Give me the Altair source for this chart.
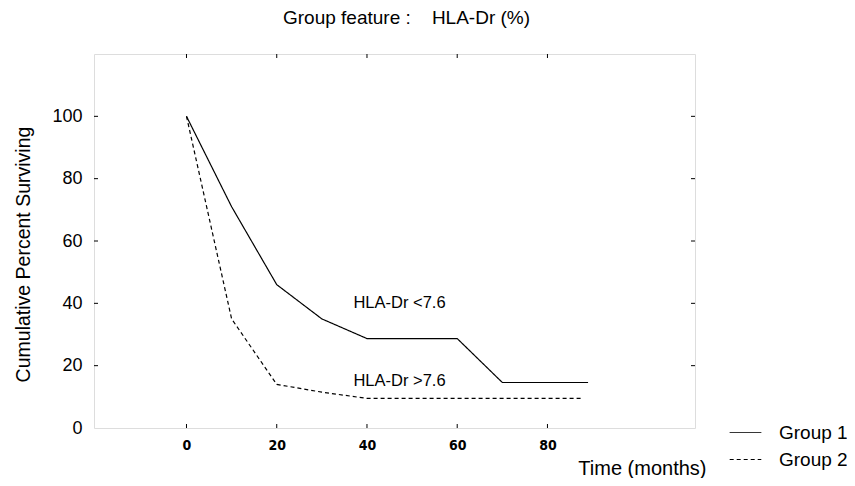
import altair as alt
import pandas as pd

# ---- data ----
time_g1 = [0, 10, 20, 30, 40, 50, 60, 70, 80, 89]
surv_g1 = [100, 71, 46, 35, 28.7, 28.7, 28.7, 14.6, 14.6, 14.6]
time_g2 = [0, 10, 20, 30, 40, 50, 60, 70, 80, 88]
surv_g2 = [100, 35, 14, 11.5, 9.5, 9.5, 9.5, 9.5, 9.5, 9.5]
groups = ["Group 1", "Group 2"]

ann_t = [37, 37]
ann_s = [40.2, 15.2]
ann_text = ["HLA-Dr <7.6", "HLA-Dr >7.6"]

x_ticks = [0, 20, 40, 60, 80]
y_ticks = [0, 20, 40, 60, 80, 100]

W, H = 601, 374
FONT = "Liberation Sans, Arial, sans-serif"

curves = pd.DataFrame(
    {
        "t": time_g1 + time_g2,
        "s": surv_g1 + surv_g2,
        "group": [groups[0]] * len(time_g1) + [groups[1]] * len(time_g2),
    }
)
ann = pd.DataFrame({"t": ann_t, "s": ann_s, "label": ann_text})
xt = pd.DataFrame({"t": x_ticks})
yt = pd.DataFrame({"s": y_ticks[1:]})

xscale = alt.Scale(domain=[-20.5, 112.7], nice=False, zero=False)
yscale = alt.Scale(domain=[0, 120], nice=False)

x_axis = alt.Axis(
    values=x_ticks,
    title="Time (months)",
    ticks=False,
    domain=False,
    grid=False,
    labelFont="Liberation Sans Narrow, DejaVu Sans Condensed, sans-serif",
    labelFontWeight="bold",
    labelFontSize=14,
    labelPadding=10,
    labelColor="black",
    titleFont=FONT,
    titleFontSize=20,
    titleFontWeight="normal",
    titleColor="black",
    titleAlign="right",
    titleBaseline="middle",
    titleX=612,
    titleY=40,
)
y_axis = alt.Axis(
    values=y_ticks,
    title="Cumulative Percent Surviving",
    ticks=False,
    domain=False,
    grid=False,
    labelFont=FONT,
    labelFontSize=18,
    labelPadding=12,
    labelColor="black",
    titleFont=FONT,
    titleFontSize=19.5,
    titleFontWeight="normal",
    titleColor="black",
    titlePadding=18,
    titleY=200,
)

X = alt.X("t:Q", scale=xscale, axis=x_axis)
Y = alt.Y("s:Q", scale=yscale, axis=y_axis)

lines = (
    alt.Chart(curves)
    .mark_line(color="black", strokeWidth=1.2)
    .encode(
        x=X,
        y=Y,
        strokeDash=alt.StrokeDash(
            "group:N",
            scale=alt.Scale(domain=groups, range=[[1, 0], [4, 3]]),
            legend=alt.Legend(
                title=None,
                orient="none",
                legendX=635,
                legendY=362,
                symbolType="stroke",
                symbolSize=1000,
                symbolStrokeWidth=1,
                symbolStrokeColor="black",
                labelFont=FONT,
                labelFontSize=19,
                labelColor="black",
                labelOffset=17,
                rowPadding=0,
            ),
        ),
    )
)

labels = (
    alt.Chart(ann)
    .mark_text(align="left", baseline="middle", font=FONT, fontSize=16.5, color="black")
    .encode(x=X, y=Y, text="label:N")
)

yticks_left = alt.Chart(yt).mark_rule(color="black", strokeWidth=1).encode(
    y=Y, x=alt.value(0), x2=alt.value(4)
)
yticks_right = alt.Chart(yt).mark_rule(color="black", strokeWidth=1).encode(
    y=Y, x=alt.value(W), x2=alt.value(W - 4)
)
xticks_bottom = alt.Chart(xt).mark_rule(color="black", strokeWidth=1).encode(
    x=X, y=alt.value(H), y2=alt.value(H - 4)
)
xticks_top = alt.Chart(xt).mark_rule(color="black", strokeWidth=1).encode(
    x=X, y=alt.value(0), y2=alt.value(4)
)

chart = (
    alt.layer(yticks_left, yticks_right, xticks_bottom, xticks_top, lines, labels)
    .properties(
        width=W,
        height=H,
        autosize=alt.AutoSizeParams(type="none"),
        padding={"left": 86, "top": 46, "right": 152, "bottom": 50},
        title=alt.TitleParams(
            "Group feature :\u00a0\u00a0\u00a0\u00a0HLA-Dr (%)",
            font=FONT,
            fontSize=19,
            fontWeight="normal",
            color="black",
            anchor="middle",
            dx=12,
            offset=26,
        ),
    )
    .configure_view(stroke="black", strokeWidth=1.2)
    .configure(background="white")
)

chart.save("out.html", embed_options={"renderer": "svg", "actions": False})
